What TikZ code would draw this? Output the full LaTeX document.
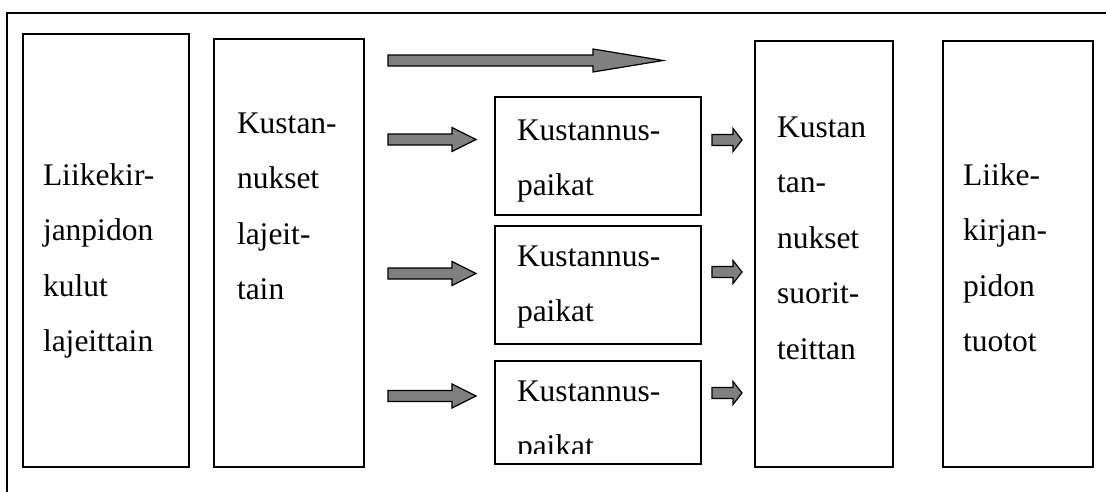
\documentclass[tikz,border=0pt]{standalone}
\usepackage{fontspec}
\setmainfont{Liberation Serif}

% block arrow: shaft start, head start, tip, centre y, shaft half-height, head half-height
\newcommand\blkarrow[6]{%
  \filldraw[blockarrow] (#1,{#4-#5}) -- (#2,{#4-#5}) -- (#2,{#4-#6}) -- (#3,#4)
    -- (#2,{#4+#6}) -- (#2,{#4+#5}) -- (#1,{#4+#5}) -- cycle;}

\begin{document}
\begin{tikzpicture}[x=1pt,y=-1pt,
  box/.style={draw=black, line width=1.4pt, rectangle, inner sep=0pt, outer sep=0pt, anchor=north west},
  txt/.style={anchor=north west, inner sep=0pt, outer sep=0pt, align=left,
              font=\fontsize{31.5}{55.5}\selectfont},
  blockarrow/.style={draw=black, fill=gray, line width=1.2pt, line join=miter}]
\useasboundingbox (0,0) rectangle (1106,491);

% outer frame, running past the right and bottom edges
\begin{scope}
  \clip (0,0) rectangle (1106,491);
  \draw[line width=1.4pt] (7,13) rectangle (1115,500);
\end{scope}

% tall boxes
\node[box, minimum width=166pt, minimum height=433pt] (kulut) at (23,34) {};
\node[box, minimum width=150pt, minimum height=428pt] (lajit) at (214,39) {};
\node[box, minimum width=138pt, minimum height=426pt] (suorit) at (755,41) {};
\node[box, minimum width=150pt, minimum height=426pt] (tuotot) at (943,41) {};

% cost centre boxes
\node[box, minimum width=206pt, minimum height=118pt] (kp1) at (495,97) {};
\node[box, minimum width=206pt, minimum height=118pt] (kp2) at (495,226) {};
\node[box, minimum width=206pt, minimum height=103pt] (kp3) at (495,361) {};

% texts (strut top = baseline - 38.85)
\node[txt] (kulut-t) at (43,{185-38.85}) {\strut Liikekir-\\\strut janpidon\\\strut kulut\\\strut lajeittain};
\node[txt] (lajit-t) at (237,{133-38.85}) {\strut Kustan-\\\strut nukset\\\strut lajeit-\\\strut tain};
\node[txt] (suorit-t) at (777,{137-38.85}) {\strut Kustan\\\strut tan-\\\strut nukset\\\strut suorit-\\\strut teittan};
\node[txt] (tuotot-t) at (963,{185-38.85}) {\strut Liike-\\\strut kirjan-\\\strut pidon\\\strut tuotot};
\node[txt] (kp1-t) at (517,{140-38.85}) {\strut Kustannus-\\\strut paikat};
\node[txt] (kp2-t) at (517,{266-38.85}) {\strut Kustannus-\\\strut paikat};
% the last text overflows its box and is cut off
\begin{scope}
  \clip (495,361) rectangle (701,453);
  \node[txt] (kp3-t) at (517,{401-38.85}) {\strut Kustannus-\\\strut paikat};
\end{scope}

% block arrows
\blkarrow{388}{593}{663}{60.5}{5.5}{11.5}
\blkarrow{388}{452}{476}{139.5}{5.5}{12}
\blkarrow{388}{452}{476}{273.5}{5.5}{12}
\blkarrow{388}{452}{476}{396}{5.5}{12}
\blkarrow{712}{733}{742}{140}{5.5}{11.5}
\blkarrow{712}{733}{742}{272}{5.5}{11.5}
\blkarrow{712}{733}{742}{393}{5.5}{11.5}
\end{tikzpicture}
\end{document}
